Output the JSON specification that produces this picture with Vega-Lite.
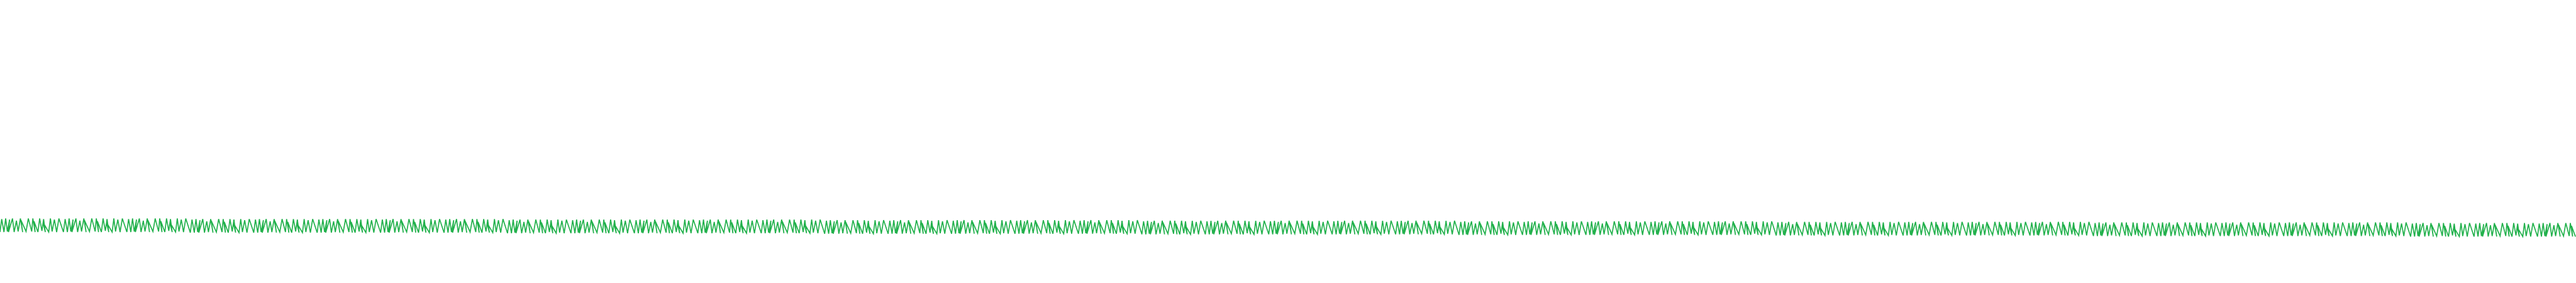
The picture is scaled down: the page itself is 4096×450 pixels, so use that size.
{"$schema":"https://vega.github.io/schema/vega-lite/v6.json","width":4096,"height":450,"autosize":{"type":"fit","contains":"padding"},"padding":0,"background":"white","config":{"view":{"stroke":null}},
"data":{"values":[
{"x":0,"y":410},{"x":3,"y":387},{"x":7,"y":410},{"x":10,"y":386},{"x":13,"y":409},{"x":17,"y":388},{"x":15,"y":410},{"x":22,"y":386},{"x":25,"y":410},{"x":29,"y":390},{"x":32,"y":409},{"x":36,"y":386},{"x":40,"y":410},{"x":37,"y":389},{"x":46,"y":409},{"x":50,"y":386},{"x":56,"y":409},{"x":58,"y":386},{"x":62,"y":410},{"x":60,"y":391},{"x":67,"y":410},{"x":70,"y":386},{"x":74,"y":408},{"x":77,"y":387},{"x":80,"y":410},{"x":76,"y":393},{"x":86,"y":410},{"x":89,"y":386},{"x":92,"y":409},{"x":96,"y":388},{"x":100,"y":410},{"x":104,"y":386},
{"x":112,"y":410},{"x":115,"y":387},{"x":119,"y":410},{"x":122,"y":386},{"x":125,"y":409},{"x":129,"y":388},{"x":127,"y":410},{"x":134,"y":386},{"x":137,"y":410},{"x":141,"y":390},{"x":144,"y":409},{"x":148,"y":386},{"x":152,"y":410},{"x":149,"y":389},{"x":158,"y":409},{"x":162,"y":386},{"x":168,"y":409},{"x":170,"y":386},{"x":174,"y":410},{"x":172,"y":391},{"x":179,"y":410},{"x":182,"y":386},{"x":186,"y":408},{"x":189,"y":387},{"x":192,"y":410},{"x":188,"y":393},{"x":198,"y":410},{"x":201,"y":386},{"x":204,"y":409},{"x":208,"y":388},{"x":212,"y":410},{"x":216,"y":386},
{"x":224,"y":410},{"x":227,"y":387},{"x":231,"y":410},{"x":234,"y":386},{"x":237,"y":409},{"x":241,"y":388},{"x":239,"y":410},{"x":246,"y":386},{"x":249,"y":410},{"x":253,"y":390},{"x":256,"y":409},{"x":260,"y":386},{"x":264,"y":410},{"x":261,"y":389},{"x":270,"y":409},{"x":274,"y":386},{"x":280,"y":409},{"x":282,"y":386},{"x":286,"y":410},{"x":284,"y":391},{"x":291,"y":410},{"x":294,"y":386},{"x":298,"y":408},{"x":301,"y":387},{"x":304,"y":410},{"x":300,"y":393},{"x":310,"y":410},{"x":313,"y":386},{"x":316,"y":409},{"x":320,"y":388},{"x":324,"y":410},{"x":328,"y":386},
{"x":336,"y":411},{"x":339,"y":388},{"x":343,"y":411},{"x":346,"y":387},{"x":349,"y":410},{"x":353,"y":389},{"x":351,"y":411},{"x":358,"y":387},{"x":361,"y":411},{"x":365,"y":391},{"x":368,"y":410},{"x":372,"y":387},{"x":376,"y":411},{"x":373,"y":390},{"x":382,"y":410},{"x":386,"y":387},{"x":392,"y":410},{"x":394,"y":387},{"x":398,"y":411},{"x":396,"y":392},{"x":403,"y":411},{"x":406,"y":387},{"x":410,"y":409},{"x":413,"y":388},{"x":416,"y":411},{"x":412,"y":394},{"x":422,"y":411},{"x":425,"y":387},{"x":428,"y":410},{"x":432,"y":389},{"x":436,"y":411},{"x":440,"y":387},
{"x":448,"y":411},{"x":451,"y":388},{"x":455,"y":411},{"x":458,"y":387},{"x":461,"y":410},{"x":465,"y":389},{"x":463,"y":411},{"x":470,"y":387},{"x":473,"y":411},{"x":477,"y":391},{"x":480,"y":410},{"x":484,"y":387},{"x":488,"y":411},{"x":485,"y":390},{"x":494,"y":410},{"x":498,"y":387},{"x":504,"y":410},{"x":506,"y":387},{"x":510,"y":411},{"x":508,"y":392},{"x":515,"y":411},{"x":518,"y":387},{"x":522,"y":409},{"x":525,"y":388},{"x":528,"y":411},{"x":524,"y":394},{"x":534,"y":411},{"x":537,"y":387},{"x":540,"y":410},{"x":544,"y":389},{"x":548,"y":411},{"x":552,"y":387},
{"x":560,"y":411},{"x":563,"y":388},{"x":567,"y":411},{"x":570,"y":387},{"x":573,"y":410},{"x":577,"y":389},{"x":575,"y":411},{"x":582,"y":387},{"x":585,"y":411},{"x":589,"y":391},{"x":592,"y":410},{"x":596,"y":387},{"x":600,"y":411},{"x":597,"y":390},{"x":606,"y":410},{"x":610,"y":387},{"x":616,"y":410},{"x":618,"y":387},{"x":622,"y":411},{"x":620,"y":392},{"x":627,"y":411},{"x":630,"y":387},{"x":634,"y":409},{"x":637,"y":388},{"x":640,"y":411},{"x":636,"y":394},{"x":646,"y":411},{"x":649,"y":387},{"x":652,"y":410},{"x":656,"y":389},{"x":660,"y":411},{"x":664,"y":387},
{"x":672,"y":411},{"x":675,"y":388},{"x":679,"y":411},{"x":682,"y":387},{"x":685,"y":410},{"x":689,"y":389},{"x":687,"y":411},{"x":694,"y":387},{"x":697,"y":411},{"x":701,"y":391},{"x":704,"y":410},{"x":708,"y":387},{"x":712,"y":411},{"x":709,"y":390},{"x":718,"y":410},{"x":722,"y":387},{"x":728,"y":410},{"x":730,"y":387},{"x":734,"y":411},{"x":732,"y":392},{"x":739,"y":411},{"x":742,"y":387},{"x":746,"y":409},{"x":749,"y":388},{"x":752,"y":411},{"x":748,"y":394},{"x":758,"y":411},{"x":761,"y":387},{"x":764,"y":410},{"x":768,"y":389},{"x":772,"y":411},{"x":776,"y":387},
{"x":784,"y":411},{"x":787,"y":388},{"x":791,"y":411},{"x":794,"y":387},{"x":797,"y":410},{"x":801,"y":389},{"x":799,"y":411},{"x":806,"y":387},{"x":809,"y":411},{"x":813,"y":391},{"x":816,"y":410},{"x":820,"y":387},{"x":824,"y":411},{"x":821,"y":390},{"x":830,"y":410},{"x":834,"y":387},{"x":840,"y":410},{"x":842,"y":387},{"x":846,"y":411},{"x":844,"y":392},{"x":851,"y":411},{"x":854,"y":387},{"x":858,"y":409},{"x":861,"y":388},{"x":864,"y":411},{"x":860,"y":394},{"x":870,"y":411},{"x":873,"y":387},{"x":876,"y":410},{"x":880,"y":389},{"x":884,"y":411},{"x":888,"y":387},
{"x":896,"y":412},{"x":899,"y":389},{"x":903,"y":412},{"x":906,"y":388},{"x":909,"y":411},{"x":913,"y":390},{"x":911,"y":412},{"x":918,"y":388},{"x":921,"y":412},{"x":925,"y":392},{"x":928,"y":411},{"x":932,"y":388},{"x":936,"y":412},{"x":933,"y":391},{"x":942,"y":411},{"x":946,"y":388},{"x":952,"y":411},{"x":954,"y":388},{"x":958,"y":412},{"x":956,"y":393},{"x":963,"y":412},{"x":966,"y":388},{"x":970,"y":410},{"x":973,"y":389},{"x":976,"y":412},{"x":972,"y":395},{"x":982,"y":412},{"x":985,"y":388},{"x":988,"y":411},{"x":992,"y":390},{"x":996,"y":412},{"x":1000,"y":388},
{"x":1008,"y":412},{"x":1011,"y":389},{"x":1015,"y":412},{"x":1018,"y":388},{"x":1021,"y":411},{"x":1025,"y":390},{"x":1023,"y":412},{"x":1030,"y":388},{"x":1033,"y":412},{"x":1037,"y":392},{"x":1040,"y":411},{"x":1044,"y":388},{"x":1048,"y":412},{"x":1045,"y":391},{"x":1054,"y":411},{"x":1058,"y":388},{"x":1064,"y":411},{"x":1066,"y":388},{"x":1070,"y":412},{"x":1068,"y":393},{"x":1075,"y":412},{"x":1078,"y":388},{"x":1082,"y":410},{"x":1085,"y":389},{"x":1088,"y":412},{"x":1084,"y":395},{"x":1094,"y":412},{"x":1097,"y":388},{"x":1100,"y":411},{"x":1104,"y":390},{"x":1108,"y":412},{"x":1112,"y":388},
{"x":1120,"y":412},{"x":1123,"y":389},{"x":1127,"y":412},{"x":1130,"y":388},{"x":1133,"y":411},{"x":1137,"y":390},{"x":1135,"y":412},{"x":1142,"y":388},{"x":1145,"y":412},{"x":1149,"y":392},{"x":1152,"y":411},{"x":1156,"y":388},{"x":1160,"y":412},{"x":1157,"y":391},{"x":1166,"y":411},{"x":1170,"y":388},{"x":1176,"y":411},{"x":1178,"y":388},{"x":1182,"y":412},{"x":1180,"y":393},{"x":1187,"y":412},{"x":1190,"y":388},{"x":1194,"y":410},{"x":1197,"y":389},{"x":1200,"y":412},{"x":1196,"y":395},{"x":1206,"y":412},{"x":1209,"y":388},{"x":1212,"y":411},{"x":1216,"y":390},{"x":1220,"y":412},{"x":1224,"y":388},
{"x":1232,"y":412},{"x":1235,"y":389},{"x":1239,"y":412},{"x":1242,"y":388},{"x":1245,"y":411},{"x":1249,"y":390},{"x":1247,"y":412},{"x":1254,"y":388},{"x":1257,"y":412},{"x":1261,"y":392},{"x":1264,"y":411},{"x":1268,"y":388},{"x":1272,"y":412},{"x":1269,"y":391},{"x":1278,"y":411},{"x":1282,"y":388},{"x":1288,"y":411},{"x":1290,"y":388},{"x":1294,"y":412},{"x":1292,"y":393},{"x":1299,"y":412},{"x":1302,"y":388},{"x":1306,"y":410},{"x":1309,"y":389},{"x":1312,"y":412},{"x":1308,"y":395},{"x":1318,"y":412},{"x":1321,"y":388},{"x":1324,"y":411},{"x":1328,"y":390},{"x":1332,"y":412},{"x":1336,"y":388},
{"x":1344,"y":412},{"x":1347,"y":389},{"x":1351,"y":412},{"x":1354,"y":388},{"x":1357,"y":411},{"x":1361,"y":390},{"x":1359,"y":412},{"x":1366,"y":388},{"x":1369,"y":412},{"x":1373,"y":392},{"x":1376,"y":411},{"x":1380,"y":388},{"x":1384,"y":412},{"x":1381,"y":391},{"x":1390,"y":411},{"x":1394,"y":388},{"x":1400,"y":411},{"x":1402,"y":388},{"x":1406,"y":412},{"x":1404,"y":393},{"x":1411,"y":412},{"x":1414,"y":388},{"x":1418,"y":410},{"x":1421,"y":389},{"x":1424,"y":412},{"x":1420,"y":395},{"x":1430,"y":412},{"x":1433,"y":388},{"x":1436,"y":411},{"x":1440,"y":390},{"x":1444,"y":412},{"x":1448,"y":388},
{"x":1456,"y":413},{"x":1459,"y":390},{"x":1463,"y":413},{"x":1466,"y":389},{"x":1469,"y":412},{"x":1473,"y":391},{"x":1471,"y":413},{"x":1478,"y":389},{"x":1481,"y":413},{"x":1485,"y":393},{"x":1488,"y":412},{"x":1492,"y":389},{"x":1496,"y":413},{"x":1493,"y":392},{"x":1502,"y":412},{"x":1506,"y":389},{"x":1512,"y":412},{"x":1514,"y":389},{"x":1518,"y":413},{"x":1516,"y":394},{"x":1523,"y":413},{"x":1526,"y":389},{"x":1530,"y":411},{"x":1533,"y":390},{"x":1536,"y":413},{"x":1532,"y":396},{"x":1542,"y":413},{"x":1545,"y":389},{"x":1548,"y":412},{"x":1552,"y":391},{"x":1556,"y":413},{"x":1560,"y":389},
{"x":1568,"y":413},{"x":1571,"y":390},{"x":1575,"y":413},{"x":1578,"y":389},{"x":1581,"y":412},{"x":1585,"y":391},{"x":1583,"y":413},{"x":1590,"y":389},{"x":1593,"y":413},{"x":1597,"y":393},{"x":1600,"y":412},{"x":1604,"y":389},{"x":1608,"y":413},{"x":1605,"y":392},{"x":1614,"y":412},{"x":1618,"y":389},{"x":1624,"y":412},{"x":1626,"y":389},{"x":1630,"y":413},{"x":1628,"y":394},{"x":1635,"y":413},{"x":1638,"y":389},{"x":1642,"y":411},{"x":1645,"y":390},{"x":1648,"y":413},{"x":1644,"y":396},{"x":1654,"y":413},{"x":1657,"y":389},{"x":1660,"y":412},{"x":1664,"y":391},{"x":1668,"y":413},{"x":1672,"y":389},
{"x":1680,"y":413},{"x":1683,"y":390},{"x":1687,"y":413},{"x":1690,"y":389},{"x":1693,"y":412},{"x":1697,"y":391},{"x":1695,"y":413},{"x":1702,"y":389},{"x":1705,"y":413},{"x":1709,"y":393},{"x":1712,"y":412},{"x":1716,"y":389},{"x":1720,"y":413},{"x":1717,"y":392},{"x":1726,"y":412},{"x":1730,"y":389},{"x":1736,"y":412},{"x":1738,"y":389},{"x":1742,"y":413},{"x":1740,"y":394},{"x":1747,"y":413},{"x":1750,"y":389},{"x":1754,"y":411},{"x":1757,"y":390},{"x":1760,"y":413},{"x":1756,"y":396},{"x":1766,"y":413},{"x":1769,"y":389},{"x":1772,"y":412},{"x":1776,"y":391},{"x":1780,"y":413},{"x":1784,"y":389},
{"x":1792,"y":413},{"x":1795,"y":390},{"x":1799,"y":413},{"x":1802,"y":389},{"x":1805,"y":412},{"x":1809,"y":391},{"x":1807,"y":413},{"x":1814,"y":389},{"x":1817,"y":413},{"x":1821,"y":393},{"x":1824,"y":412},{"x":1828,"y":389},{"x":1832,"y":413},{"x":1829,"y":392},{"x":1838,"y":412},{"x":1842,"y":389},{"x":1848,"y":412},{"x":1850,"y":389},{"x":1854,"y":413},{"x":1852,"y":394},{"x":1859,"y":413},{"x":1862,"y":389},{"x":1866,"y":411},{"x":1869,"y":390},{"x":1872,"y":413},{"x":1868,"y":396},{"x":1878,"y":413},{"x":1881,"y":389},{"x":1884,"y":412},{"x":1888,"y":391},{"x":1892,"y":413},{"x":1896,"y":389},
{"x":1904,"y":413},{"x":1907,"y":390},{"x":1911,"y":413},{"x":1914,"y":389},{"x":1917,"y":412},{"x":1921,"y":391},{"x":1919,"y":413},{"x":1926,"y":389},{"x":1929,"y":413},{"x":1933,"y":393},{"x":1936,"y":412},{"x":1940,"y":389},{"x":1944,"y":413},{"x":1941,"y":392},{"x":1950,"y":412},{"x":1954,"y":389},{"x":1960,"y":412},{"x":1962,"y":389},{"x":1966,"y":413},{"x":1964,"y":394},{"x":1971,"y":413},{"x":1974,"y":389},{"x":1978,"y":411},{"x":1981,"y":390},{"x":1984,"y":413},{"x":1980,"y":396},{"x":1990,"y":413},{"x":1993,"y":389},{"x":1996,"y":412},{"x":2000,"y":391},{"x":2004,"y":413},{"x":2008,"y":389},
{"x":2016,"y":414},{"x":2019,"y":391},{"x":2023,"y":414},{"x":2026,"y":390},{"x":2029,"y":413},{"x":2033,"y":392},{"x":2031,"y":414},{"x":2038,"y":390},{"x":2041,"y":414},{"x":2045,"y":394},{"x":2048,"y":413},{"x":2052,"y":390},{"x":2056,"y":414},{"x":2053,"y":393},{"x":2062,"y":413},{"x":2066,"y":390},{"x":2072,"y":413},{"x":2074,"y":390},{"x":2078,"y":414},{"x":2076,"y":395},{"x":2083,"y":414},{"x":2086,"y":390},{"x":2090,"y":412},{"x":2093,"y":391},{"x":2096,"y":414},{"x":2092,"y":397},{"x":2102,"y":414},{"x":2105,"y":390},{"x":2108,"y":413},{"x":2112,"y":392},{"x":2116,"y":414},{"x":2120,"y":390},
{"x":2128,"y":414},{"x":2131,"y":391},{"x":2135,"y":414},{"x":2138,"y":390},{"x":2141,"y":413},{"x":2145,"y":392},{"x":2143,"y":414},{"x":2150,"y":390},{"x":2153,"y":414},{"x":2157,"y":394},{"x":2160,"y":413},{"x":2164,"y":390},{"x":2168,"y":414},{"x":2165,"y":393},{"x":2174,"y":413},{"x":2178,"y":390},{"x":2184,"y":413},{"x":2186,"y":390},{"x":2190,"y":414},{"x":2188,"y":395},{"x":2195,"y":414},{"x":2198,"y":390},{"x":2202,"y":412},{"x":2205,"y":391},{"x":2208,"y":414},{"x":2204,"y":397},{"x":2214,"y":414},{"x":2217,"y":390},{"x":2220,"y":413},{"x":2224,"y":392},{"x":2228,"y":414},{"x":2232,"y":390},
{"x":2240,"y":414},{"x":2243,"y":391},{"x":2247,"y":414},{"x":2250,"y":390},{"x":2253,"y":413},{"x":2257,"y":392},{"x":2255,"y":414},{"x":2262,"y":390},{"x":2265,"y":414},{"x":2269,"y":394},{"x":2272,"y":413},{"x":2276,"y":390},{"x":2280,"y":414},{"x":2277,"y":393},{"x":2286,"y":413},{"x":2290,"y":390},{"x":2296,"y":413},{"x":2298,"y":390},{"x":2302,"y":414},{"x":2300,"y":395},{"x":2307,"y":414},{"x":2310,"y":390},{"x":2314,"y":412},{"x":2317,"y":391},{"x":2320,"y":414},{"x":2316,"y":397},{"x":2326,"y":414},{"x":2329,"y":390},{"x":2332,"y":413},{"x":2336,"y":392},{"x":2340,"y":414},{"x":2344,"y":390},
{"x":2352,"y":414},{"x":2355,"y":391},{"x":2359,"y":414},{"x":2362,"y":390},{"x":2365,"y":413},{"x":2369,"y":392},{"x":2367,"y":414},{"x":2374,"y":390},{"x":2377,"y":414},{"x":2381,"y":394},{"x":2384,"y":413},{"x":2388,"y":390},{"x":2392,"y":414},{"x":2389,"y":393},{"x":2398,"y":413},{"x":2402,"y":390},{"x":2408,"y":413},{"x":2410,"y":390},{"x":2414,"y":414},{"x":2412,"y":395},{"x":2419,"y":414},{"x":2422,"y":390},{"x":2426,"y":412},{"x":2429,"y":391},{"x":2432,"y":414},{"x":2428,"y":397},{"x":2438,"y":414},{"x":2441,"y":390},{"x":2444,"y":413},{"x":2448,"y":392},{"x":2452,"y":414},{"x":2456,"y":390},
{"x":2464,"y":414},{"x":2467,"y":391},{"x":2471,"y":414},{"x":2474,"y":390},{"x":2477,"y":413},{"x":2481,"y":392},{"x":2479,"y":414},{"x":2486,"y":390},{"x":2489,"y":414},{"x":2493,"y":394},{"x":2496,"y":413},{"x":2500,"y":390},{"x":2504,"y":414},{"x":2501,"y":393},{"x":2510,"y":413},{"x":2514,"y":390},{"x":2520,"y":413},{"x":2522,"y":390},{"x":2526,"y":414},{"x":2524,"y":395},{"x":2531,"y":414},{"x":2534,"y":390},{"x":2538,"y":412},{"x":2541,"y":391},{"x":2544,"y":414},{"x":2540,"y":397},{"x":2550,"y":414},{"x":2553,"y":390},{"x":2556,"y":413},{"x":2560,"y":392},{"x":2564,"y":414},{"x":2568,"y":390},
{"x":2576,"y":415},{"x":2579,"y":392},{"x":2583,"y":415},{"x":2586,"y":391},{"x":2589,"y":414},{"x":2593,"y":393},{"x":2591,"y":415},{"x":2598,"y":391},{"x":2601,"y":415},{"x":2605,"y":395},{"x":2608,"y":414},{"x":2612,"y":391},{"x":2616,"y":415},{"x":2613,"y":394},{"x":2622,"y":414},{"x":2626,"y":391},{"x":2632,"y":414},{"x":2634,"y":391},{"x":2638,"y":415},{"x":2636,"y":396},{"x":2643,"y":415},{"x":2646,"y":391},{"x":2650,"y":413},{"x":2653,"y":392},{"x":2656,"y":415},{"x":2652,"y":398},{"x":2662,"y":415},{"x":2665,"y":391},{"x":2668,"y":414},{"x":2672,"y":393},{"x":2676,"y":415},{"x":2680,"y":391},
{"x":2688,"y":415},{"x":2691,"y":392},{"x":2695,"y":415},{"x":2698,"y":391},{"x":2701,"y":414},{"x":2705,"y":393},{"x":2703,"y":415},{"x":2710,"y":391},{"x":2713,"y":415},{"x":2717,"y":395},{"x":2720,"y":414},{"x":2724,"y":391},{"x":2728,"y":415},{"x":2725,"y":394},{"x":2734,"y":414},{"x":2738,"y":391},{"x":2744,"y":414},{"x":2746,"y":391},{"x":2750,"y":415},{"x":2748,"y":396},{"x":2755,"y":415},{"x":2758,"y":391},{"x":2762,"y":413},{"x":2765,"y":392},{"x":2768,"y":415},{"x":2764,"y":398},{"x":2774,"y":415},{"x":2777,"y":391},{"x":2780,"y":414},{"x":2784,"y":393},{"x":2788,"y":415},{"x":2792,"y":391},
{"x":2800,"y":415},{"x":2803,"y":392},{"x":2807,"y":415},{"x":2810,"y":391},{"x":2813,"y":414},{"x":2817,"y":393},{"x":2815,"y":415},{"x":2822,"y":391},{"x":2825,"y":415},{"x":2829,"y":395},{"x":2832,"y":414},{"x":2836,"y":391},{"x":2840,"y":415},{"x":2837,"y":394},{"x":2846,"y":414},{"x":2850,"y":391},{"x":2856,"y":414},{"x":2858,"y":391},{"x":2862,"y":415},{"x":2860,"y":396},{"x":2867,"y":415},{"x":2870,"y":391},{"x":2874,"y":413},{"x":2877,"y":392},{"x":2880,"y":415},{"x":2876,"y":398},{"x":2886,"y":415},{"x":2889,"y":391},{"x":2892,"y":414},{"x":2896,"y":393},{"x":2900,"y":415},{"x":2904,"y":391},
{"x":2912,"y":415},{"x":2915,"y":392},{"x":2919,"y":415},{"x":2922,"y":391},{"x":2925,"y":414},{"x":2929,"y":393},{"x":2927,"y":415},{"x":2934,"y":391},{"x":2937,"y":415},{"x":2941,"y":395},{"x":2944,"y":414},{"x":2948,"y":391},{"x":2952,"y":415},{"x":2949,"y":394},{"x":2958,"y":414},{"x":2962,"y":391},{"x":2968,"y":414},{"x":2970,"y":391},{"x":2974,"y":415},{"x":2972,"y":396},{"x":2979,"y":415},{"x":2982,"y":391},{"x":2986,"y":413},{"x":2989,"y":392},{"x":2992,"y":415},{"x":2988,"y":398},{"x":2998,"y":415},{"x":3001,"y":391},{"x":3004,"y":414},{"x":3008,"y":393},{"x":3012,"y":415},{"x":3016,"y":391},
{"x":3024,"y":415},{"x":3027,"y":392},{"x":3031,"y":415},{"x":3034,"y":391},{"x":3037,"y":414},{"x":3041,"y":393},{"x":3039,"y":415},{"x":3046,"y":391},{"x":3049,"y":415},{"x":3053,"y":395},{"x":3056,"y":414},{"x":3060,"y":391},{"x":3064,"y":415},{"x":3061,"y":394},{"x":3070,"y":414},{"x":3074,"y":391},{"x":3080,"y":414},{"x":3082,"y":391},{"x":3086,"y":415},{"x":3084,"y":396},{"x":3091,"y":415},{"x":3094,"y":391},{"x":3098,"y":413},{"x":3101,"y":392},{"x":3104,"y":415},{"x":3100,"y":398},{"x":3110,"y":415},{"x":3113,"y":391},{"x":3116,"y":414},{"x":3120,"y":393},{"x":3124,"y":415},{"x":3128,"y":391},
{"x":3136,"y":416},{"x":3139,"y":393},{"x":3143,"y":416},{"x":3146,"y":392},{"x":3149,"y":415},{"x":3153,"y":394},{"x":3151,"y":416},{"x":3158,"y":392},{"x":3161,"y":416},{"x":3165,"y":396},{"x":3168,"y":415},{"x":3172,"y":392},{"x":3176,"y":416},{"x":3173,"y":395},{"x":3182,"y":415},{"x":3186,"y":392},{"x":3192,"y":415},{"x":3194,"y":392},{"x":3198,"y":416},{"x":3196,"y":397},{"x":3203,"y":416},{"x":3206,"y":392},{"x":3210,"y":414},{"x":3213,"y":393},{"x":3216,"y":416},{"x":3212,"y":399},{"x":3222,"y":416},{"x":3225,"y":392},{"x":3228,"y":415},{"x":3232,"y":394},{"x":3236,"y":416},{"x":3240,"y":392},
{"x":3248,"y":416},{"x":3251,"y":393},{"x":3255,"y":416},{"x":3258,"y":392},{"x":3261,"y":415},{"x":3265,"y":394},{"x":3263,"y":416},{"x":3270,"y":392},{"x":3273,"y":416},{"x":3277,"y":396},{"x":3280,"y":415},{"x":3284,"y":392},{"x":3288,"y":416},{"x":3285,"y":395},{"x":3294,"y":415},{"x":3298,"y":392},{"x":3304,"y":415},{"x":3306,"y":392},{"x":3310,"y":416},{"x":3308,"y":397},{"x":3315,"y":416},{"x":3318,"y":392},{"x":3322,"y":414},{"x":3325,"y":393},{"x":3328,"y":416},{"x":3324,"y":399},{"x":3334,"y":416},{"x":3337,"y":392},{"x":3340,"y":415},{"x":3344,"y":394},{"x":3348,"y":416},{"x":3352,"y":392},
{"x":3360,"y":416},{"x":3363,"y":393},{"x":3367,"y":416},{"x":3370,"y":392},{"x":3373,"y":415},{"x":3377,"y":394},{"x":3375,"y":416},{"x":3382,"y":392},{"x":3385,"y":416},{"x":3389,"y":396},{"x":3392,"y":415},{"x":3396,"y":392},{"x":3400,"y":416},{"x":3397,"y":395},{"x":3406,"y":415},{"x":3410,"y":392},{"x":3416,"y":415},{"x":3418,"y":392},{"x":3422,"y":416},{"x":3420,"y":397},{"x":3427,"y":416},{"x":3430,"y":392},{"x":3434,"y":414},{"x":3437,"y":393},{"x":3440,"y":416},{"x":3436,"y":399},{"x":3446,"y":416},{"x":3449,"y":392},{"x":3452,"y":415},{"x":3456,"y":394},{"x":3460,"y":416},{"x":3464,"y":392},
{"x":3472,"y":416},{"x":3475,"y":393},{"x":3479,"y":416},{"x":3482,"y":392},{"x":3485,"y":415},{"x":3489,"y":394},{"x":3487,"y":416},{"x":3494,"y":392},{"x":3497,"y":416},{"x":3501,"y":396},{"x":3504,"y":415},{"x":3508,"y":392},{"x":3512,"y":416},{"x":3509,"y":395},{"x":3518,"y":415},{"x":3522,"y":392},{"x":3528,"y":415},{"x":3530,"y":392},{"x":3534,"y":416},{"x":3532,"y":397},{"x":3539,"y":416},{"x":3542,"y":392},{"x":3546,"y":414},{"x":3549,"y":393},{"x":3552,"y":416},{"x":3548,"y":399},{"x":3558,"y":416},{"x":3561,"y":392},{"x":3564,"y":415},{"x":3568,"y":394},{"x":3572,"y":416},{"x":3576,"y":392},
{"x":3584,"y":416},{"x":3587,"y":393},{"x":3591,"y":416},{"x":3594,"y":392},{"x":3597,"y":415},{"x":3601,"y":394},{"x":3599,"y":416},{"x":3606,"y":392},{"x":3609,"y":416},{"x":3613,"y":396},{"x":3616,"y":415},{"x":3620,"y":392},{"x":3624,"y":416},{"x":3621,"y":395},{"x":3630,"y":415},{"x":3634,"y":392},{"x":3640,"y":415},{"x":3642,"y":392},{"x":3646,"y":416},{"x":3644,"y":397},{"x":3651,"y":416},{"x":3654,"y":392},{"x":3658,"y":414},{"x":3661,"y":393},{"x":3664,"y":416},{"x":3660,"y":399},{"x":3670,"y":416},{"x":3673,"y":392},{"x":3676,"y":415},{"x":3680,"y":394},{"x":3684,"y":416},{"x":3688,"y":392},
{"x":3696,"y":417},{"x":3699,"y":394},{"x":3703,"y":417},{"x":3706,"y":393},{"x":3709,"y":416},{"x":3713,"y":395},{"x":3711,"y":417},{"x":3718,"y":393},{"x":3721,"y":417},{"x":3725,"y":397},{"x":3728,"y":416},{"x":3732,"y":393},{"x":3736,"y":417},{"x":3733,"y":396},{"x":3742,"y":416},{"x":3746,"y":393},{"x":3752,"y":416},{"x":3754,"y":393},{"x":3758,"y":417},{"x":3756,"y":398},{"x":3763,"y":417},{"x":3766,"y":393},{"x":3770,"y":415},{"x":3773,"y":394},{"x":3776,"y":417},{"x":3772,"y":400},{"x":3782,"y":417},{"x":3785,"y":393},{"x":3788,"y":416},{"x":3792,"y":395},{"x":3796,"y":417},{"x":3800,"y":393},
{"x":3808,"y":417},{"x":3811,"y":394},{"x":3815,"y":417},{"x":3818,"y":393},{"x":3821,"y":416},{"x":3825,"y":395},{"x":3823,"y":417},{"x":3830,"y":393},{"x":3833,"y":417},{"x":3837,"y":397},{"x":3840,"y":416},{"x":3844,"y":393},{"x":3848,"y":417},{"x":3845,"y":396},{"x":3854,"y":416},{"x":3858,"y":393},{"x":3864,"y":416},{"x":3866,"y":393},{"x":3870,"y":417},{"x":3868,"y":398},{"x":3875,"y":417},{"x":3878,"y":393},{"x":3882,"y":415},{"x":3885,"y":394},{"x":3888,"y":417},{"x":3884,"y":400},{"x":3894,"y":417},{"x":3897,"y":393},{"x":3900,"y":416},{"x":3904,"y":395},{"x":3908,"y":417},{"x":3912,"y":393},
{"x":3920,"y":417},{"x":3923,"y":394},{"x":3927,"y":417},{"x":3930,"y":393},{"x":3933,"y":416},{"x":3937,"y":395},{"x":3935,"y":417},{"x":3942,"y":393},{"x":3945,"y":417},{"x":3949,"y":397},{"x":3952,"y":416},{"x":3956,"y":393},{"x":3960,"y":417},{"x":3957,"y":396},{"x":3966,"y":416},{"x":3970,"y":393},{"x":3976,"y":416},{"x":3978,"y":393},{"x":3982,"y":417},{"x":3980,"y":398},{"x":3987,"y":417},{"x":3990,"y":393},{"x":3994,"y":415},{"x":3997,"y":394},{"x":4000,"y":417},{"x":3996,"y":400},{"x":4006,"y":417},{"x":4009,"y":393},{"x":4012,"y":416},{"x":4016,"y":395},{"x":4020,"y":417},{"x":4024,"y":393},
{"x":4032,"y":417},{"x":4035,"y":394},{"x":4039,"y":417},{"x":4042,"y":393},{"x":4045,"y":416},{"x":4049,"y":395},{"x":4047,"y":417},{"x":4054,"y":393},{"x":4057,"y":417},{"x":4061,"y":397},{"x":4064,"y":416},{"x":4068,"y":393},{"x":4072,"y":417},{"x":4069,"y":396},{"x":4078,"y":416},{"x":4082,"y":393},{"x":4088,"y":416},{"x":4090,"y":393},{"x":4094,"y":417},{"x":4092,"y":398},{"x":4099,"y":417},{"x":4102,"y":393},{"x":4106,"y":415},{"x":4109,"y":394},{"x":4112,"y":417},{"x":4108,"y":400},{"x":4118,"y":417},{"x":4121,"y":393},{"x":4124,"y":416},{"x":4128,"y":395},{"x":4132,"y":417},{"x":4136,"y":393},
{"x":4144,"y":417},{"x":4147,"y":394},{"x":4151,"y":417},{"x":4154,"y":393},{"x":4157,"y":416},{"x":4161,"y":395},{"x":4159,"y":417},{"x":4166,"y":393},{"x":4169,"y":417},{"x":4173,"y":397},{"x":4176,"y":416},{"x":4180,"y":393},{"x":4184,"y":417},{"x":4181,"y":396},{"x":4190,"y":416},{"x":4194,"y":393},{"x":4200,"y":416},{"x":4202,"y":393},{"x":4206,"y":417},{"x":4204,"y":398},{"x":4211,"y":417},{"x":4214,"y":393},{"x":4218,"y":415},{"x":4221,"y":394},{"x":4224,"y":417},{"x":4220,"y":400},{"x":4230,"y":417},{"x":4233,"y":393},{"x":4236,"y":416},{"x":4240,"y":395},{"x":4244,"y":417},{"x":4248,"y":393},
{"x":4256,"y":418},{"x":4259,"y":395},{"x":4263,"y":418},{"x":4266,"y":394},{"x":4269,"y":417},{"x":4273,"y":396},{"x":4271,"y":418},{"x":4278,"y":394},{"x":4281,"y":418},{"x":4285,"y":398},{"x":4288,"y":417},{"x":4292,"y":394},{"x":4296,"y":418},{"x":4293,"y":397},{"x":4302,"y":417},{"x":4306,"y":394},{"x":4312,"y":417},{"x":4314,"y":394},{"x":4318,"y":418},{"x":4316,"y":399},{"x":4323,"y":418},{"x":4326,"y":394},{"x":4330,"y":416},{"x":4333,"y":395},{"x":4336,"y":418},{"x":4332,"y":401},{"x":4342,"y":418},{"x":4345,"y":394},{"x":4348,"y":417},{"x":4352,"y":396},{"x":4356,"y":418},{"x":4360,"y":394},
{"x":4368,"y":418},{"x":4371,"y":395},{"x":4375,"y":418},{"x":4378,"y":394},{"x":4381,"y":417},{"x":4385,"y":396},{"x":4383,"y":418},{"x":4390,"y":394},{"x":4393,"y":418},{"x":4397,"y":398},{"x":4400,"y":417},{"x":4404,"y":394},{"x":4408,"y":418},{"x":4405,"y":397},{"x":4414,"y":417},{"x":4418,"y":394},{"x":4424,"y":417},{"x":4426,"y":394},{"x":4430,"y":418},{"x":4428,"y":399},{"x":4435,"y":418},{"x":4438,"y":394},{"x":4442,"y":416},{"x":4445,"y":395},{"x":4448,"y":418},{"x":4444,"y":401},{"x":4454,"y":418},{"x":4457,"y":394},{"x":4460,"y":417},{"x":4464,"y":396},{"x":4468,"y":418},{"x":4472,"y":394},
{"x":4480,"y":418},{"x":4483,"y":395},{"x":4487,"y":418},{"x":4490,"y":394},{"x":4493,"y":417},{"x":4497,"y":396},{"x":4495,"y":418},{"x":4502,"y":394},{"x":4505,"y":418},{"x":4509,"y":398},{"x":4512,"y":417},{"x":4516,"y":394},{"x":4520,"y":418},{"x":4517,"y":397},{"x":4526,"y":417},{"x":4530,"y":394},{"x":4536,"y":417},{"x":4538,"y":394},{"x":4542,"y":418},{"x":4540,"y":399},{"x":4547,"y":418}
]},
"mark":{"type":"line","color":"#22b14c","strokeWidth":1.7,"clip":true},
"encoding":{
"x":{"field":"x","type":"quantitative","scale":{"domain":[0,4548],"nice":false,"zero":false},"axis":null},
"y":{"field":"y","type":"quantitative","scale":{"domain":[0,500],"reverse":true,"nice":false,"zero":false},"axis":null},
"order":{"value":null}
}}
